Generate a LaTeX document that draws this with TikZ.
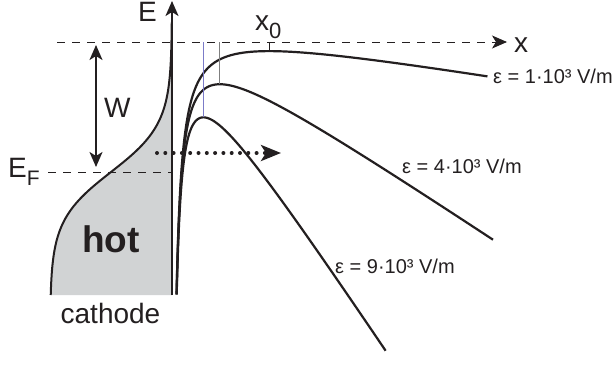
\documentclass[tikz,border=0pt]{standalone}
\usepackage{fontspec}
\setmainfont{Liberation Sans}
\usetikzlibrary{arrows.meta}
\definecolor{Ink}{HTML}{231F20}
\definecolor{CathodeGray}{HTML}{D1D3D4}
\definecolor{MaxBlue}{HTML}{7B7BC8}
\definecolor{MaxGray}{HTML}{7F7F7F}

\begin{document}
\begin{tikzpicture}[x=1pt,y=-1pt,every node/.style={text=Ink,inner sep=0pt},
  barrier/.style={Ink,line width=2.2pt},
  vaclevel/.style={Ink,line width=0.9pt,dash pattern=on 8pt off 7pt},
  arrowhead/.style={-{Stealth[length=15pt,width=13pt,inset=4pt]}},
  labelfont/.style={font=\fontsize{28}{30}\selectfont},
  fieldfont/.style={font=\fontsize{20}{22}\selectfont}]
\useasboundingbox (0,0) rectangle (613,367);
% cathode: occupied states (Fermi edge)
\fill[CathodeGray] (172,295) -- plot[variable=\t,domain=295:22,samples=90,smooth] ({172-122/(1+exp((172-\t)/24))},\t) -- cycle;
\draw[Ink,line width=2pt] plot[variable=\t,domain=295:22,samples=90,smooth] ({172-122/(1+exp((172-\t)/24))},\t);
% energy axis and levels
\coordinate (axisbot) at (172,295); \coordinate (axistop) at (172,1);
\draw[Ink,line width=2pt,arrowhead] (axisbot) -- (axistop);
\node[labelfont,anchor=base west] (lblE) at (138,21) {E};
\coordinate (vacL) at (57,42); \coordinate (vacR) at (507,42);
\draw[vaclevel,arrowhead] (vacL) -- (vacR);
\node[labelfont,anchor=base west] (lblx) at (514,52) {x};
\coordinate (fermiL) at (48,172); \coordinate (fermiR) at (172,172);
\draw[vaclevel] (fermiL) -- (fermiR);
\node[labelfont,anchor=base west] (lblEF) at (8,177) {E\raisebox{-8pt}{\fontsize{21}{21}\selectfont F}};
% work function
\coordinate (wtop) at (96,45); \coordinate (wbot) at (96,167);
\draw[Ink,line width=1.8pt,{Stealth[length=15pt,width=13pt,inset=4pt]}-{Stealth[length=15pt,width=13pt,inset=4pt]}] (wtop) -- (wbot);
\node[labelfont,anchor=base west] (lblW) at (104,117) {W};
% potential barriers
\draw[barrier] plot[variable=\t,domain=1.78:5.760,samples=120,smooth] ({170.6+exp(\t)},{18+0.168*exp(\t)+1632/exp(\t)});
\draw[barrier] plot[variable=\t,domain=1.79:5.776,samples=120,smooth] ({170.6+exp(\t)},{18+0.672*exp(\t)+1632/exp(\t)});
\draw[barrier] plot[variable=\t,domain=1.81:5.3725,samples=120,smooth] ({170.6+exp(\t)},{18+1.512*exp(\t)+1632/exp(\t)});
\node[fieldfont,anchor=base west] (lblfield1) at (493,83) {ε = 1·10³ V/m};
\node[fieldfont,anchor=base west] (lblfield4) at (402,173) {ε = 4·10³ V/m};
\node[fieldfont,anchor=base west] (lblfield9) at (335,273) {ε = 9·10³ V/m};
% barrier maxima
\coordinate (vac9) at (203.5,42); \coordinate (max9) at (203.5,117.3);
\coordinate (vac4) at (219.9,42); \coordinate (max4) at (219.9,84.2);
\coordinate (vac1) at (269.2,42); \coordinate (max1) at (269.2,51.1);
\draw[MaxBlue,line width=1pt] (vac9) -- (max9);
\draw[MaxGray,line width=1pt] (vac4) -- (max4);
\draw[Ink,line width=1pt] (vac1) -- (max1);
\node[labelfont,anchor=base west] (lblxzero) at (255,30) {x\raisebox{-8pt}{\fontsize{22}{22}\selectfont 0}};
% emitted electrons
\coordinate (tunL) at (157,153); \coordinate (tunR) at (281,153);
\draw[Ink,line width=4pt,line cap=round,dash pattern=on 0pt off 8.3pt,-{Stealth[length=20pt,width=16pt,inset=5pt]}] (tunL) -- (tunR);
\node[font=\fontsize{37}{40}\selectfont\bfseries,anchor=base] (lblhot) at (111,252) {hot};
\node[labelfont,anchor=base] (lblcathode) at (110.5,323) {cathode};
\end{tikzpicture}
\end{document}
